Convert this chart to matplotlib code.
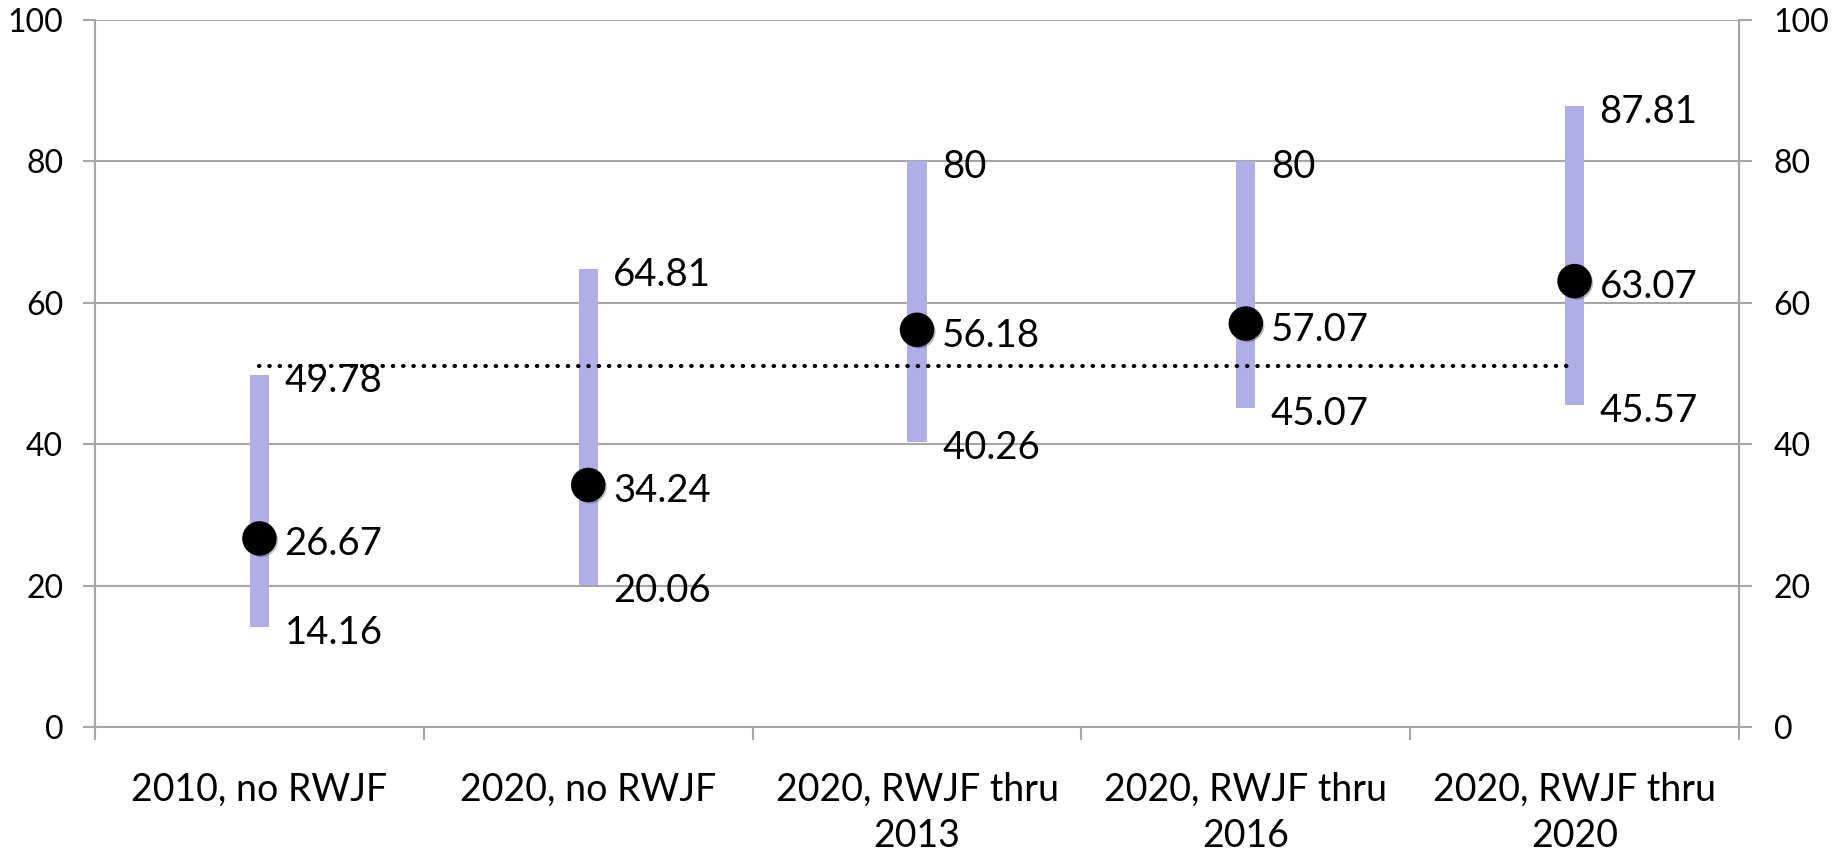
import matplotlib
matplotlib.use("Agg")
import matplotlib.pyplot as plt
import matplotlib.patheffects as pe
from matplotlib.ticker import FixedLocator

# Chart values
CATEGORIES = ["2010, no RWJF", "2020, no RWJF", "2020, RWJF thru\n2013",
              "2020, RWJF thru\n2016", "2020, RWJF thru\n2020"]
HIGH = [49.78, 64.81, 80, 80, 87.81]
MID = [26.67, 34.24, 56.18, 57.07, 63.07]
LOW = [14.16, 20.06, 40.26, 45.07, 45.57]
HIGH_LABELS = ["49.78", "64.81", "80", "80", "87.81"]
MID_LABELS = ["26.67", "34.24", "56.18", "57.07", "63.07"]
LOW_LABELS = ["14.16", "20.06", "40.26", "45.07", "45.57"]
REFERENCE = [51, 51, 51, 51, 51]
Y_TICKS = [0, 20, 40, 60, 80, 100]

GRID = "#a6a6a6"
BAR = "#afafe5"

plt.rcParams["font.family"] = ["Lato", "DejaVu Sans"]

figure = plt.figure(figsize=(18.39, 8.51), dpi=100)
axis = figure.add_axes([0.0517, 0.1457, 0.8939, 0.8308])
x = list(range(len(CATEGORIES)))

# high-low bars
axis.bar(x, [h - l for h, l in zip(HIGH, LOW)], bottom=LOW, width=0.058,
         color=BAR, zorder=2)

# dotted reference line
axis.plot(x, REFERENCE, color="black", lw=3.0, linestyle=(0, (0.1, 2.37)),
          dash_capstyle="round", zorder=3)

# middle points
axis.plot(x, MID, linestyle="none", marker="o", markersize=23.8,
          color="black", zorder=4,
          path_effects=[pe.SimplePatchShadow(offset=(1.5, -1.5), alpha=0.25),
                        pe.Normal()])

# data labels
for i in x:
    for val, txt in ((HIGH[i], HIGH_LABELS[i]), (MID[i], MID_LABELS[i]),
                     (LOW[i], LOW_LABELS[i])):
        axis.annotate(txt, (i, val), xytext=(25, -17),
                      textcoords="offset pixels", ha="left", va="baseline",
                      fontsize=27.5, zorder=5)

axis.set_xlim(-0.5, len(CATEGORIES) - 0.5)
axis.set_ylim(0, 100)
axis.set_yticks(Y_TICKS)
axis.grid(True, axis="y", color=GRID, lw=1.5, zorder=0)
axis.set_xticks(x)
axis.set_xticklabels(CATEGORIES, fontsize=27, linespacing=1.35)
axis.xaxis.set_minor_locator(FixedLocator([i - 0.5 for i in range(len(CATEGORIES) + 1)]))
axis.tick_params(axis="x", which="major", length=0, pad=32)
axis.tick_params(axis="x", which="minor", length=9.5, width=1.5, color=GRID)
axis.tick_params(axis="y", length=9, width=1.5, color=GRID, labelsize=23, pad=14)

for side in ("left", "bottom", "right"):
    axis.spines[side].set_color(GRID)
    axis.spines[side].set_linewidth(1.5)
axis.spines["top"].set_visible(False)

# secondary axis on the right
right = axis.twinx()
right.set_ylim(0, 100)
right.set_yticks(Y_TICKS)
right.tick_params(axis="y", length=9, width=1.5, color=GRID, labelsize=23, pad=16)
for side in ("left", "bottom", "top"):
    right.spines[side].set_visible(False)
right.spines["right"].set_color(GRID)
right.spines["right"].set_linewidth(1.5)

plt.savefig("out.png", dpi=100)
